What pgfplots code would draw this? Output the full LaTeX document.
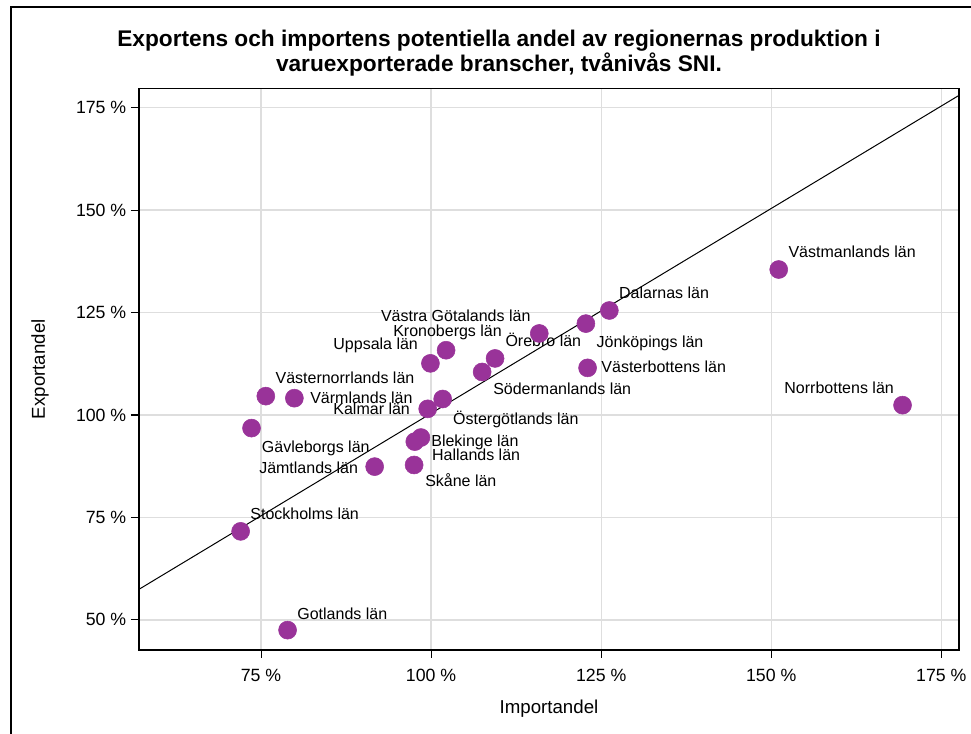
\documentclass[border=0pt]{standalone}
\usepackage{fontspec}
\setmainfont{Liberation Sans}
\usepackage{pgfplots}
\pgfplotsset{compat=1.18}
\definecolor{lanpurple}{RGB}{153,51,153}
\definecolor{gridgray}{RGB}{222,222,222}

\begin{document}
\begin{tikzpicture}
    \useasboundingbox (-104.25pt,-63pt) rectangle (624pt,487.5pt);
    % outer frame (left and top edges)
    \draw[line width=0.8pt] (-96pt,-80pt) -- (-96pt,482.25pt) -- (640pt,482.25pt);
    \node[font=\fontsize{17}{20}\selectfont\bfseries, anchor=base, inner sep=0pt]
        at (270pt,452.25pt) {Exportens och importens potentiella andel av regionernas produktion i};
    \node[font=\fontsize{17}{20}\selectfont\bfseries, anchor=base, inner sep=0pt]
        at (270pt,433.5pt) {varuexporterade branscher, tvånivås SNI.};

    \begin{axis}[
        at={(0pt,0pt)}, anchor=south west,
        scale only axis,
        width=615pt, height=421.2pt,
        xmin=57.06, xmax=177.6,
        ymin=42.65, ymax=179.7,
        xtick={75,100,125,150,175},
        ytick={50,75,100,125,150,175},
        xticklabel={\pgfmathprintnumber{\tick}\ \%},
        yticklabel={\pgfmathprintnumber{\tick}\ \%},
        /pgf/number format/assume math mode=true,
        ticklabel style={font=\fontsize{13.3}{16}\selectfont},
        xticklabel style={yshift=-4.5pt},
        grid=major,
        grid style={draw=gridgray, line width=1pt},
        tick align=outside,
        major tick length=6pt,
        xtick pos=bottom, ytick pos=left,
        tick style={black, line width=0.8pt},
        axis line style={line width=1.1pt},
        xlabel=Importandel,
        ylabel=Exportandel,
        label style={font=\fontsize{14}{17}\selectfont},
        xlabel style={at={(axis description cs:0.5,-0.104)}, anchor=center},
        ylabel style={at={(axis description cs:-0.1207,0.5)}, anchor=center},
    ]
        % reference line (export = import)
        \addplot[black, line width=0.75pt] coordinates {(40,40.4) (190,190.4)};

        % regions: (importandel, exportandel)
        \addplot[only marks, mark=*, mark size=6.75pt,
                 mark options={fill=lanpurple, draw=lanpurple}]
        coordinates {
            (151.1, 135.5) % Västmanland
            (169.3, 102.4) % Norrbotten
            (126.2, 125.5) % Dalarna
            (122.75, 122.3)
            (123.0, 111.5)
            (115.9, 119.9)
            (109.4, 113.8)
            (107.5, 110.5)
            (102.2, 115.8)
            (99.9, 112.6)
            (101.7, 103.9)
            (99.5, 101.5)
            (98.5, 94.5)
            (97.6, 93.5)
            (97.5, 87.8)
            (91.7, 87.4)
            (75.7, 104.6)
            (79.9, 104.1)
            (73.6, 96.8)
            (72.0, 71.6)  % Stockholm
            (78.9, 47.5)  % Gotland
        };

        \begin{scope}[every node/.style={font=\fontsize{12}{14}\selectfont, anchor=base west, inner sep=0pt}]
        \node at (axis cs:152.5,138.5) {Västmanlands län};
        \node at (axis cs:151.9,105.3) {Norrbottens län};
        \node at (axis cs:127.6,128.5) {Dalarnas län};
        \node at (axis cs:124.3,116.5) {Jönköpings län};
        \node at (axis cs:125.0,110.4) {Västerbottens län};
        \node at (axis cs:92.6,122.9) {Västra Götalands län};
        \node at (axis cs:94.4,119.2) {Kronobergs län};
        \node at (axis cs:110.9,116.8) {Örebro län};
        \node at (axis cs:85.6,116.0) {Uppsala län};
        \node at (axis cs:109.1,105.1) {Södermanlands län};
        \node at (axis cs:77.1,107.7) {Västernorrlands län};
        \node at (axis cs:82.2,102.9) {Värmlands län};
        \node at (axis cs:85.6,100.2) {Kalmar län};
        \node at (axis cs:103.2,97.7) {Östergötlands län};
        \node at (axis cs:75.1,90.9) {Gävleborgs län};
        \node at (axis cs:100.0,92.4) {Blekinge län};
        \node at (axis cs:100.1,88.9) {Hallands län};
        \node at (axis cs:74.7,85.8) {Jämtlands län};
        \node at (axis cs:99.1,82.6) {Skåne län};
        \node at (axis cs:73.4,74.6) {Stockholms län};
        \node at (axis cs:80.3,50.1) {Gotlands län};
        \end{scope}
    \end{axis}
\end{tikzpicture}
\end{document}
